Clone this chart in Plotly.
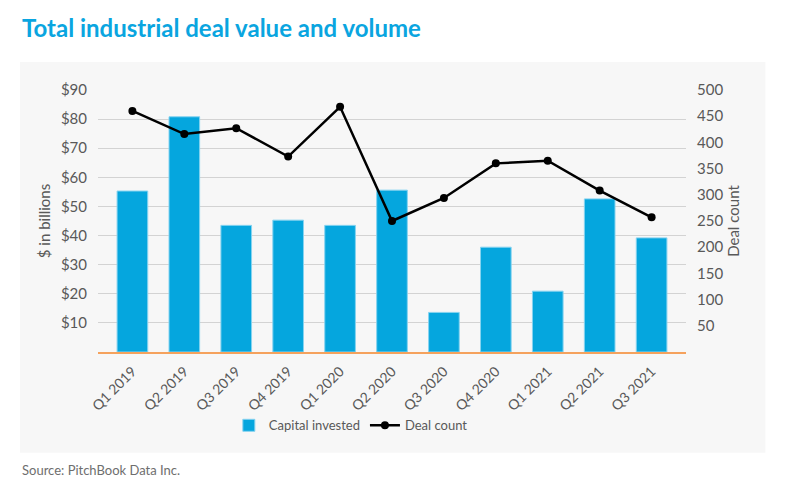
import plotly.graph_objects as go

quarters = ['Q1 2019', 'Q2 2019', 'Q3 2019', 'Q4 2019', 'Q1 2020', 'Q2 2020',
            'Q3 2020', 'Q4 2020', 'Q1 2021', 'Q2 2021', 'Q3 2021']
capital_invested = [55.3, 80.8, 43.5, 45.3, 43.5, 55.6, 13.6, 36.0, 20.9, 52.6, 39.2]
deal_count = [460, 416, 427, 373, 468, 250, 294, 360, 365, 308, 257]

left_ticks = [10, 20, 30, 40, 50, 60, 70, 80, 90]
left_labels = ['$' + str(v) for v in left_ticks]
right_ticks = [50, 100, 150, 200, 250, 300, 350, 400, 450, 500]

blue = '#05a6de'
grey_text = '#595959'
font_name = 'Lato'

fig = go.Figure()
fig.add_trace(go.Bar(x=quarters, y=capital_invested, name='Capital invested',
                     marker=dict(color=blue, line=dict(color='#86d3f0', width=1))))
fig.add_trace(go.Scatter(x=quarters, y=deal_count, name='Deal count', yaxis='y2',
                         mode='lines+markers',
                         line=dict(color='black', width=2.5),
                         marker=dict(color='black', size=8)))

# grey panel behind the chart
fig.add_shape(type='rect', xref='paper', yref='paper',
              x0=-0.1326, x1=1.135, y0=-0.385, y1=1.107,
              fillcolor='#f7f7f7', line=dict(width=0), layer='below')

# page body adds an 8px margin, so the figure is 8px smaller
fig.update_layout(
    width=778, height=492,
    margin=dict(l=90, r=100, t=82, b=148),
    paper_bgcolor='white', plot_bgcolor='rgba(0,0,0,0)',
    font=dict(family=font_name, size=14, color=grey_text),
    bargap=0.41,
    showlegend=True,
    legend=dict(orientation='h', x=0.43, xanchor='center', y=-0.28, yanchor='middle',
                font=dict(size=13, color=grey_text), bgcolor='rgba(0,0,0,0)'),
    xaxis=dict(tickangle=-45, showgrid=False, showline=True, linecolor='#f5a25d',
               linewidth=1.5, tickfont=dict(size=14, color=grey_text),
               ticklabelstandoff=4),
    yaxis=dict(range=[0, 90], tickvals=left_ticks, ticktext=left_labels,
               showgrid=True, gridcolor='#d3d3d3', gridwidth=1, zeroline=False,
               tickfont=dict(size=15, color=grey_text), ticklabelstandoff=10,
               title=dict(text='$ in billions', font=dict(size=15, color=grey_text),
                          standoff=6)),
    yaxis2=dict(range=[0, 500], tickvals=right_ticks, overlaying='y', side='right',
                showgrid=False, zeroline=False,
                tickfont=dict(size=15, color=grey_text), ticklabelstandoff=10,
                title=dict(text='Deal count', font=dict(size=15, color=grey_text),
                           standoff=6)),
)

fig.add_annotation(text='<b>Total industrial deal value and volume</b>',
                   xref='paper', yref='paper', x=-0.1326, y=1.237,
                   xanchor='left', yanchor='middle', showarrow=False,
                   font=dict(family=font_name, size=24, color='#0aa5e0'))
fig.add_annotation(text='Source: PitchBook Data Inc.',
                   xref='paper', yref='paper', x=-0.1326, y=-0.450,
                   xanchor='left', yanchor='middle', showarrow=False,
                   font=dict(family=font_name, size=13, color='#6e6e6e'))

fig.write_html('out.html')
